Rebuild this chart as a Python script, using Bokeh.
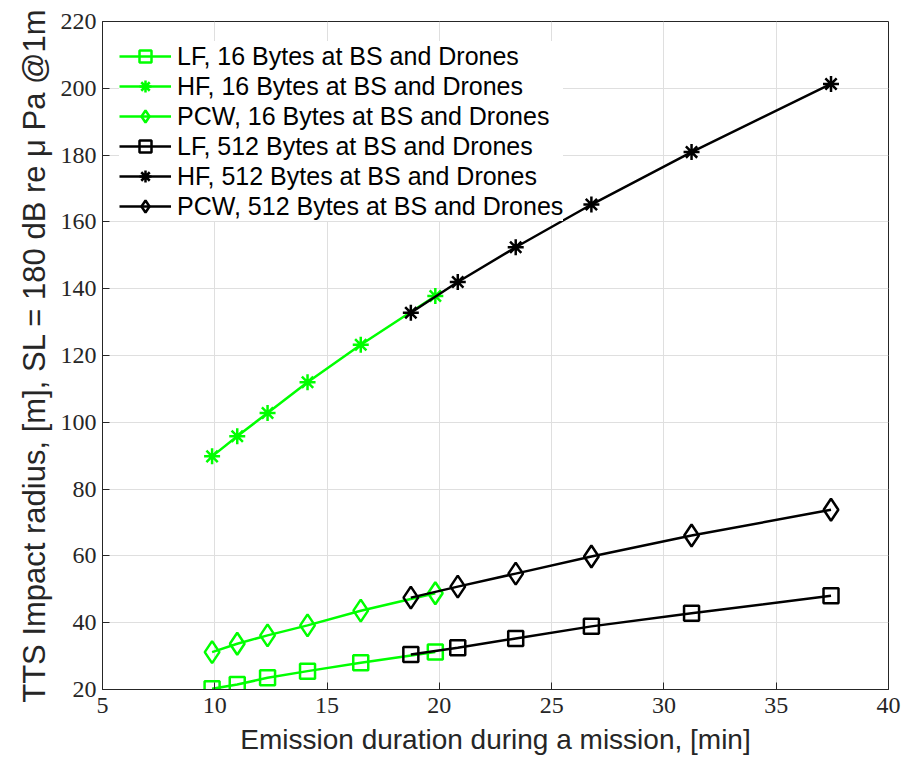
from bokeh.plotting import figure
from bokeh.models import Legend, LegendItem, Range1d, FixedTicker
from bokeh.embed import file_html
from bokeh.resources import INLINE

x16 = [9.88, 11.0, 12.35, 14.13, 16.5, 19.82]
x512 = [18.73, 20.82, 23.4, 26.77, 31.23, 37.44]
lf16 = [20.2, 21.5, 23.5, 25.5, 28.0, 31.2]
hf16 = [89.8, 95.8, 102.8, 112.0, 123.2, 137.8]
pcw16 = [31.2, 33.7, 36.2, 39.2, 43.6, 48.8]
lf512 = [30.5, 32.5, 35.3, 38.9, 42.8, 48.1]
hf512 = [132.8, 142.0, 152.4, 165.2, 180.9, 201.3]
pcw512 = [47.5, 50.8, 54.7, 59.8, 66.1, 73.8]
xticks = [5, 10, 15, 20, 25, 30, 35, 40]
yticks = [20, 40, 60, 80, 100, 120, 140, 160, 180, 200, 220]

GREEN = "#00ff00"
BLACK = "#000000"

p = figure(width=905, height=771, output_backend="svg", toolbar_location=None,
           x_range=Range1d(5, 40), y_range=Range1d(20, 220),
           min_border_left=102, min_border_right=17, min_border_top=21, min_border_bottom=82)

p.background_fill_color = "white"
p.border_fill_color = "white"
p.outline_line_color = "#262626"
p.outline_line_width = 1

for ax in (p.xaxis[0], p.yaxis[0]):
    ax.major_tick_in = 7
    ax.major_tick_out = 0
    ax.minor_tick_in = 0
    ax.minor_tick_out = 0
    ax.axis_line_color = "#262626"
    ax.major_tick_line_color = "#262626"
    ax.major_label_text_font = "Liberation Serif"
    ax.major_label_text_font_size = "24px"
    ax.major_label_text_color = "#262626"
    ax.axis_label_text_font = "Liberation Sans"
    ax.axis_label_text_font_style = "normal"
    ax.axis_label_text_color = "#262626"

p.xaxis.axis_label_text_font_size = "28px"
p.yaxis.axis_label_text_font_size = "31px"
p.xaxis.ticker = FixedTicker(ticks=xticks)
p.yaxis.ticker = FixedTicker(ticks=yticks)
p.xaxis.axis_label = "Emission duration during a mission, [min]"
p.yaxis.axis_label = "TTS Impact radius, [m], SL = 180 dB re \u03bc Pa @1m"
p.xaxis.major_label_standoff = 8
p.yaxis.major_label_standoff = 6
p.xaxis.axis_label_standoff = 8
p.yaxis.axis_label_standoff = 6

p.xgrid.grid_line_color = "#dfdfdf"
p.ygrid.grid_line_color = "#dfdfdf"
p.xgrid.ticker = FixedTicker(ticks=xticks)
p.ygrid.ticker = FixedTicker(ticks=yticks)

lw = 2.5
items = []

def series(x, y, color, marker, size, label):
    l = p.line(x, y, line_color=color, line_width=lw)
    m = p.scatter(x, y, marker=marker, size=size, line_color=color, fill_color=None,
                  line_width=lw)
    items.append(LegendItem(label=label, renderers=[l, m]))

series(x16, lf16, GREEN, "square", 15, "LF, 16 Bytes at BS and Drones")
series(x16, hf16, GREEN, "asterisk", 16, "HF, 16 Bytes at BS and Drones")
series(x16, pcw16, GREEN, "diamond", 22, "PCW, 16 Bytes at BS and Drones")
series(x512, lf512, BLACK, "square", 15, "LF, 512 Bytes at BS and Drones")
series(x512, hf512, BLACK, "asterisk", 16, "HF, 512 Bytes at BS and Drones")
series(x512, pcw512, BLACK, "diamond", 22, "PCW, 512 Bytes at BS and Drones")

legend = Legend(items=items, location=(17, 468))
legend.label_text_font = "Liberation Sans"
legend.label_text_font_size = "25px"
legend.label_text_color = "#000000"
legend.glyph_width = 52
legend.glyph_height = 30
legend.label_height = 30
legend.spacing = 0
legend.padding = 7
legend.margin = 0
legend.label_standoff = 6
legend.border_line_color = None
legend.background_fill_color = "white"
legend.background_fill_alpha = 1.0
p.add_layout(legend)

open("out.html", "w").write(file_html(p, INLINE))
